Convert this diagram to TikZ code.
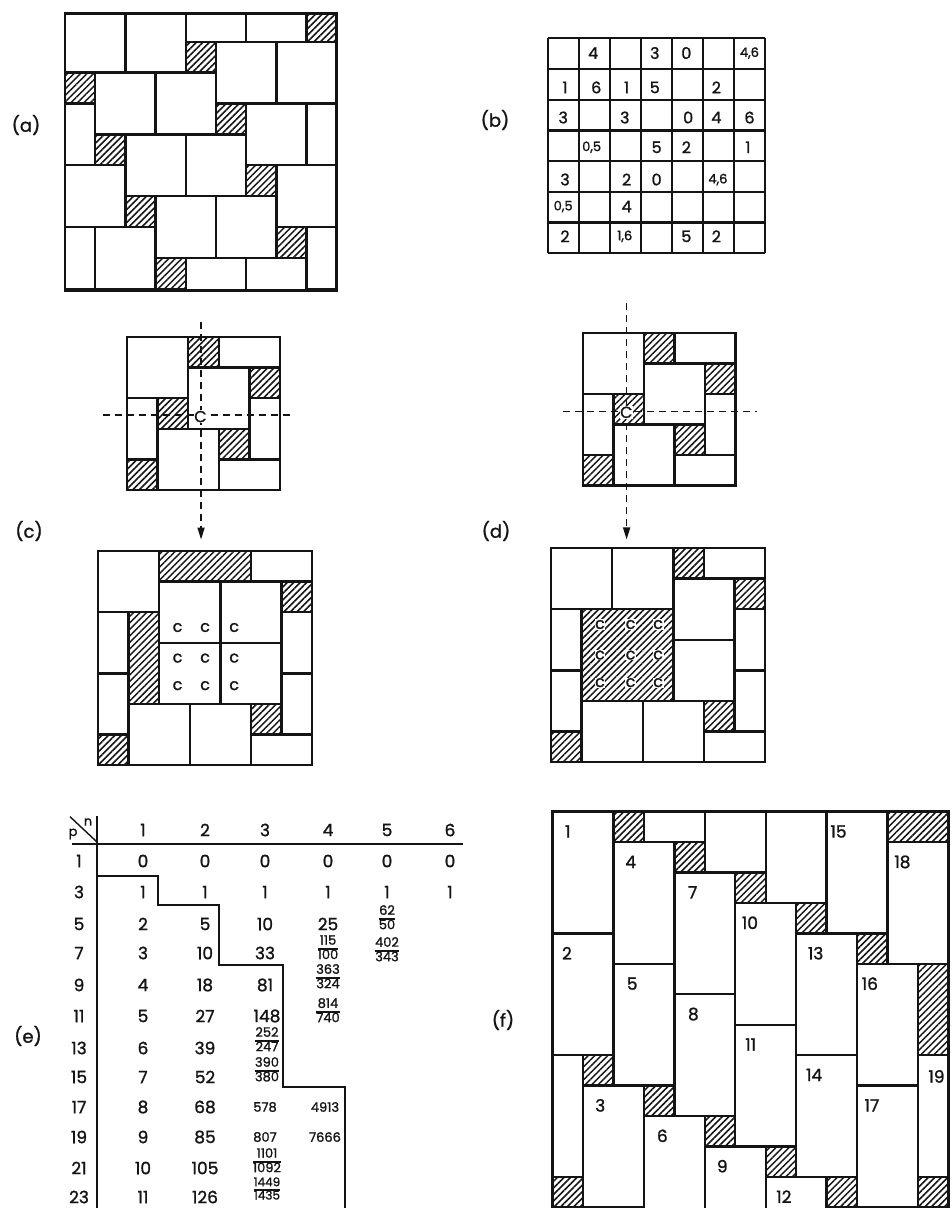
\documentclass[tikz,border=0pt]{standalone}
\usepackage{fontspec}
\setmainfont{Poppins}[FakeBold=1.3]
\usetikzlibrary{arrows.meta,patterns.meta}
\definecolor{Ink}{HTML}{141414}
\setlength{\arrayrulewidth}{1.3pt}
\renewcommand{\arraystretch}{0.8}
\tikzset{>={Triangle[length=12pt,width=7pt]},every node/.style={inner sep=0pt,text=Ink},
 tile/.style={draw=Ink,line width=2.3pt},
 hatch/.style={tile,pattern={Lines[angle=45,distance=4.6pt,line width=1.5pt]},pattern color=Ink},
 edgebox/.style={draw=Ink,line width=2.8pt},
 gridline/.style={draw=Ink,line width=2.3pt},
 cutline/.style={draw=Ink,line width=1.5pt,dash pattern=on 7pt off 5pt},
 tabline/.style={draw=Ink,line width=2pt},
 tag/.style={font=\fontsize{18}{18}\selectfont},
 num/.style={font=\fontsize{17}{17}\selectfont},
 cellnum/.style={font=\fontsize{16}{16}\selectfont},
 numsm/.style={font=\fontsize{13}{15}\selectfont},
 cmark/.style={font=\fontsize{16}{16}\selectfont,fill=white,inner sep=0.6pt}}
\newcommand{\frc}[2]{\begin{tabular}{@{}c@{}}#1\\\hline #2\end{tabular}}

\begin{document}
\begin{tikzpicture}[x=1pt,y=-1pt]
\useasboundingbox (0,0) rectangle (951,1208);
\node[tag] (la) at (26,125) {(a)};
\node[tag] (lb) at (495,120) {(b)};
\node[tag] (lc) at (29,531) {(c)};
\node[tag] (ld) at (496,531) {(d)};
\node[tag] (le) at (28,1036) {(e)};
\node[tag] (lf) at (503,1020) {(f)};
% (a)
\begin{scope}[shift={(65,10.8)},x=30.2pt,y=-30.9pt]
\begin{scope}
\clip (0,0.08) rectangle (9,9.04);
\foreach \k in {-1,...,8}{
 \pgfmathtruncatemacro\hx{mod(8+5*\k+45,9)}
 \foreach \s in {-9,0,9}{
  \draw[hatch] (\hx+\s,\k) rectangle ++(1,1);
  \draw[tile] (\hx+\s+1,\k) rectangle ++(2,2);
  \draw[tile] (\hx+\s+3,\k) rectangle ++(2,2);}}
\end{scope}
\draw[edgebox] (0,0.08) rectangle (9,9.04);
\end{scope}
% (b)
\begin{scope}[shift={(548.3,38.3)},x=30.95pt,y=-30.7pt]
\foreach \i in {0,...,7}{\draw[gridline] (\i,0) -- (\i,7); \draw[gridline] (0,\i) -- (7,\i);}
\foreach \x/\y/\t [count=\i] in {1.45/0.48/4,3.44/0.48/3,4.46/0.48/0,
 0.54/1.6/1,1.55/1.6/6,2.53/1.6/1,3.44/1.6/5,5.43/1.6/2,
 0.48/2.58/3,2.47/2.58/3,4.52/2.58/0,5.43/2.58/4,6.5/2.58/6,
 3.5/3.55/5,4.46/3.55/2,6.45/3.55/1,
 0.54/4.6/3,2.53/4.6/2,3.5/4.6/0,
 2.53/5.48/4,
 0.54/6.45/2,4.46/6.45/5,5.43/6.45/2}
 \node[cellnum] (b\i) at (\x,\y) {\t};
\foreach \x/\y/\t [count=\i] in {6.5/0.48/{4,6},1.4/3.55/{0,5},5.48/4.6/{4,6},0.48/5.48/{0,5},2.47/6.45/{1,6}}
 \node[numsm] (bd\i) at (\x,\y) {\t};
\end{scope}
% (c)
\begin{scope}[shift={(127,337)},x=30.6pt,y=-30.6pt]
\foreach \x/\y in {0/0,2/1,1/3} \draw[tile] (\x,\y) rectangle ++(2,2);
\foreach \x/\y/\w/\h in {3/0/2/1,0/2/1/2,4/2/1/2,3/4/2/1} \draw[tile] (\x,\y) rectangle ++(\w,\h);
\foreach \x/\y in {2/0,4/1,1/2,3/3,0/4} \draw[hatch] (\x,\y) rectangle ++(1,1);
\coordinate (ch1) at (-0.78,2.55);
\coordinate (ch2) at (5.46,2.55);
\coordinate (cv1) at (2.42,-0.49);
\coordinate (cv2) at (2.42,6.62);
\draw[cutline] (ch1) -- (ch2);
\draw[cutline,->] (cv1) -- (cv2);
\node[cmark] (cC) at (2.4,2.6) {C};
\end{scope}
\begin{scope}[shift={(98,551)},x=30.6pt,y=-30.6pt]
\foreach \x/\y in {0/0,1/5,3/5,2/1,4/1,2/3,4/3} \draw[tile] (\x,\y) rectangle ++(2,2);
\foreach \x/\y/\w/\h in {5/0/2/1,0/2/1/2,6/2/1/2,0/4/1/2,6/4/1/2,5/6/2/1} \draw[tile] (\x,\y) rectangle ++(\w,\h);
\foreach \x/\y/\w/\h in {2/0/3/1,6/1/1/1,1/2/1/3,5/5/1/1,0/6/1/1} \draw[hatch] (\x,\y) rectangle ++(\w,\h);
\foreach \i [count=\a] in {2.6,3.5,4.45} \foreach \j [count=\b] in {2.5,3.5,4.4}
 \node[cmark] (cc\a\b) at (\i,\j) {c};
\end{scope}
% (d)
\begin{scope}[shift={(583,333)},x=30.5pt,y=-30.5pt]
\foreach \x/\y in {0/0,2/1,1/3} \draw[tile] (\x,\y) rectangle ++(2,2);
\foreach \x/\y/\w/\h in {3/0/2/1,0/2/1/2,4/2/1/2,3/4/2/1} \draw[tile] (\x,\y) rectangle ++(\w,\h);
\foreach \x/\y in {2/0,4/1,1/2,3/3,0/4} \draw[hatch] (\x,\y) rectangle ++(1,1);
\coordinate (dh1) at (-0.66,2.58);
\coordinate (dh2) at (5.7,2.58);
\coordinate (dv1) at (1.43,-0.98);
\coordinate (dv2) at (1.43,6.77);
\draw[cutline] (dh1) -- (dh2);
\draw[cutline,->] (dv1) -- (dv2);
\node[cmark] (dC) at (1.42,2.6) {C};
\end{scope}
\begin{scope}[shift={(551,548)},x=30.6pt,y=-30.6pt]
\foreach \x/\y in {0/0,2/0,4/1,4/3,1/5,3/5} \draw[tile] (\x,\y) rectangle ++(2,2);
\foreach \x/\y/\w/\h in {5/0/2/1,0/2/1/2,6/2/1/2,0/4/1/2,6/4/1/2,5/6/2/1} \draw[tile] (\x,\y) rectangle ++(\w,\h);
\foreach \x/\y/\w/\h in {4/0/1/1,6/1/1/1,5/5/1/1,0/6/1/1,1/2/3/3} \draw[hatch] (\x,\y) rectangle ++(\w,\h);
\foreach \i [count=\a] in {1.6,2.6,3.5} \foreach \j [count=\b] in {2.5,3.5,4.4}
 \node[cmark] (dc\a\b) at (\i,\j) {c};
\end{scope}
% (e)
\draw[tabline,line width=1.4pt] (70,816.7) -- (96.7,841.7);
\draw[tabline] (96.7,816) -- (96.7,1212);
\draw[tabline] (72,843.5) -- (463,843.5);
\draw[tabline] (96.7,876) -| (158,905) -| (219,965) -| (283,1087) -| (345,1212);
\node[numsm] (ep) at (73,834) {p};
\node[numsm] (en) at (88,822) {n};
\foreach \n/\x in {1/143,2/205,3/265,4/328,5/387,6/450} \node[num] (eh\n) at (\x,830) {\n};
\foreach \p/\y in {1/861,3/892,5/924,7/953,9/985,11/1016,13/1048,15/1077,17/1107,19/1137,21/1168,23/1197}
 \node[num] (ep\p) at (79,\y) {\p};
\foreach \y [count=\i from 0] in {861,892,924,953,985,1016,1048,1077,1107,1137,1168,1197}
 \node[num] (ea\i) at (143,\y) {\i};
\foreach \v/\y in {0/861,1/892,5/924,10/953,18/985,27/1016,39/1048,52/1077,68/1107,85/1137,105/1168,126/1197}
 \node[num] (eb\v) at (205,\y) {\v};
\foreach \v/\y in {0/861,1/892,10/924,33/953,81/985} \node[num] (ec\v) at (265,\y) {\v};
\node[num] (ec148) at (267,1016) {148};
\node[numsm] (ec578) at (265,1107) {578};
\node[numsm] (ec807) at (265,1137) {807};
\node[numsm] (ec252) at (267,1041) {\frc{252}{247}};
\node[numsm] (ec390) at (267,1071) {\frc{390}{380}};
\node[numsm] (ec1101) at (267,1162) {\frc{1101}{1092}};
\node[numsm,font=\fontsize{12}{13}\selectfont] (ec1449) at (267,1190) {\frc{1449}{1435}};
\foreach \v/\y in {0/861,1/892,25/924} \node[num] (ed\v) at (328,\y) {\v};
\node[numsm] (ed115) at (328,949) {\frc{115}{100}};
\node[numsm] (ed363) at (328,978) {\frc{363}{324}};
\node[numsm] (ed814) at (328,1012) {\frc{814}{740}};
\node[numsm] (ed4913) at (325,1107) {4913};
\node[numsm] (ed7666) at (325,1137) {7666};
\foreach \v/\y in {0/861,1/892} \node[num] (ee\v) at (387,\y) {\v};
\node[numsm] (ee62) at (387,919) {\frc{62}{50}};
\node[numsm] (ee402) at (387,951) {\frc{402}{343}};
\foreach \v/\y in {0/861,1/892} \node[num] (ef\v) at (450,\y) {\v};
% (f)
\begin{scope}[shift={(552.7,811.7)},x=30.43pt,y=-30.43pt]
\begin{scope}
\clip (0,0) rectangle (13,13.2);
\foreach \x/\y/\n/\d in {0/0/1/0.4,0/4/2/0.3,2/1/4/0.38,2/5/5/0.43,4/2/7/0.44,4/6/8/0.44,
 6/3/10/0.21,6/7/11/0.32,8/4/13/0.38,8/8/14/0.32,9/0/15/0.12,10/5/16/0.15,10/9/17/0.24,
 11/1/18/0.22,1/9/3/0.39,3/10/6/0.42,5/11/9/0.39,7/12/12/0.34}
 {\draw[tile] (\x,\y) rectangle ++(2,4); \node[num,anchor=west] (f\n) at (\x+\d,\y+0.65) {\n};}
\draw[tile] (12,8) rectangle ++(1,4);
\node[num,anchor=west] (f19) at (12.34,8.7) {19};
\foreach \x/\y/\w/\h in {3/-3/2/4,5/-2/2/4,7/-1/2/4,0/8/1/4} \draw[tile] (\x,\y) rectangle ++(\w,\h);
\foreach \x/\y/\w/\h in {2/0/1/1,4/1/1/1,6/2/1/1,8/3/1/1,10/4/1/1,1/8/1/1,3/9/1/1,5/10/1/1,
 7/11/1/1,9/12/1/1,0/12/1/1,12/12/1/1,11/0/2/1,12/5/1/3}
 \draw[hatch] (\x,\y) rectangle ++(\w,\h);
\end{scope}
\draw[edgebox] (0,13.5) -- (0,0) -- (13,0) -- (13,13.5);
\end{scope}
\end{tikzpicture}
\end{document}
